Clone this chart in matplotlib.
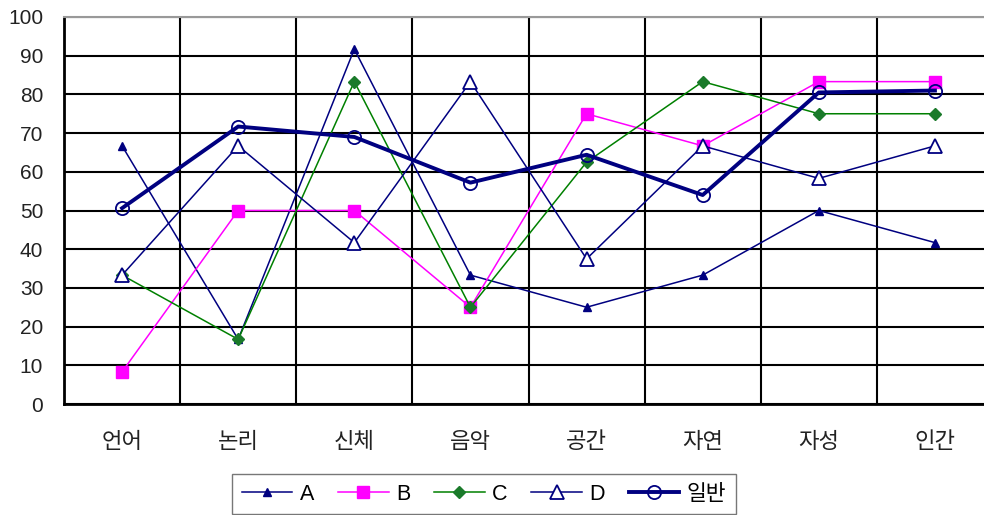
import numpy as np
import matplotlib
matplotlib.use('Agg')
import matplotlib.pyplot as plt
from matplotlib.ticker import FixedLocator

plt.rcParams['font.family'] = ['Liberation Sans', 'Noto Sans CJK KR']

# data
categories = ['언어', '논리', '신체', '음악', '공간', '자연', '자성', '인간']
series_names = ['A', 'B', 'C', 'D', '일반']
vals_a = [66.7, 16.7, 91.7, 33.3, 25.0, 33.3, 50.0, 41.7]
vals_b = [8.3, 50.0, 50.0, 25.0, 75.0, 66.7, 83.3, 83.3]
vals_c = [33.3, 16.7, 83.3, 25.0, 62.5, 83.3, 75.0, 75.0]
vals_d = [33.3, 66.7, 41.7, 83.3, 37.5, 66.7, 58.3, 66.7]
vals_gen = [50.6, 71.7, 69.0, 57.2, 64.4, 54.0, 80.5, 81.0]
y_ticks = list(range(0, 101, 10))

# styles
navy = '#000080'
styles = [
    dict(color=navy, lw=1.1, marker='^', ms=6, mfc=navy, mec=navy),
    dict(color='#FF00FF', lw=1.1, marker='s', ms=9, mfc='#FF00FF', mec='#FF00FF'),
    dict(color='#008000', lw=1.1, marker='D', ms=6, mfc='#1a7a2a', mec='#1a7a2a'),
    dict(color=navy, lw=1.1, marker='^', ms=9.5, mfc='white', mec=navy, mew=1.3),
    dict(color=navy, lw=2.8, marker='o', ms=9.5, mfc='none', mec=navy, mew=1.3),
]

fig = plt.figure(figsize=(9.84, 5.15), dpi=100)
ax = fig.add_axes([64 / 984, 1 - 404 / 515, 929 / 984, 387 / 515])

x = np.arange(len(categories))
lines = []
for name, vals, st in zip(series_names, [vals_a, vals_b, vals_c, vals_d, vals_gen], styles):
    ln, = ax.plot(x, vals, label=name, zorder=3, **st)
    lines.append(ln)

ax.set_xlim(-0.5, len(categories) - 0.5)
ax.set_ylim(0, 100)
ax.set_yticks(y_ticks)
ax.set_xticks(x)
ax.set_xticklabels(categories)
ax.xaxis.set_minor_locator(FixedLocator(np.arange(0.5, len(categories) - 0.5, 1)))

ax.grid(axis='y', which='major', color='black', lw=1.5)
ax.grid(axis='x', which='minor', color='black', lw=1.5)
ax.set_axisbelow(True)

ax.tick_params(axis='y', length=0, pad=15, labelsize=15, colors='#222222')
ax.tick_params(axis='x', which='both', length=0, pad=20, labelsize=16, colors='#222222')

for side in ['left', 'bottom']:
    ax.spines[side].set_color('black')
    ax.spines[side].set_linewidth(2)
ax.spines['top'].set_color('#999999')
ax.spines['top'].set_linewidth(1.5)
ax.spines['right'].set_visible(False)

leg = fig.legend(handles=lines, loc='upper center', ncol=5,
                 bbox_to_anchor=(484 / 984, 1 - 474 / 515),
                 fontsize=15.5, frameon=True, fancybox=False,
                 handlelength=2.35, columnspacing=1.1, handletextpad=0.35,
                 borderpad=0.45, borderaxespad=0)
leg.get_frame().set_edgecolor('#555555')
leg.get_frame().set_linewidth(1)

fig.savefig('out.png', dpi=100)
